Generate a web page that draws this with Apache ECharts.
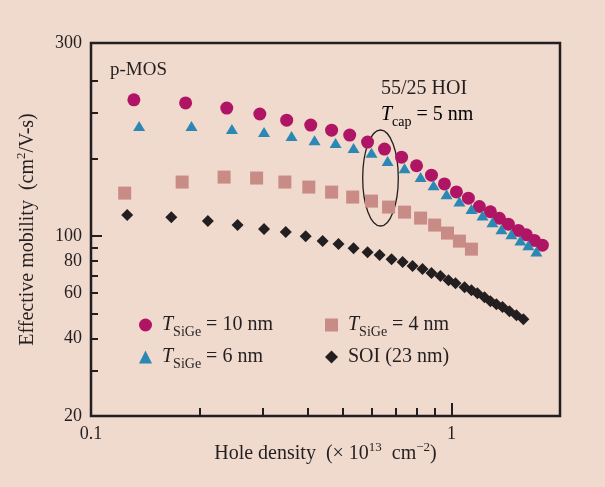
<!DOCTYPE html>
<html><head><meta charset="utf-8">
<script src="https://cdn.jsdelivr.net/npm/echarts@6/dist/echarts.min.js"></script>
<style>html,body{margin:0;padding:0;background:#f0d9cd;}#c{width:605px;height:487px;}</style>
</head><body><div id="c"></div>
<script>
// Hole density (x 10^13 cm^-2) and effective mobility (cm^2/V-s)
const t10Density = [0.1315,0.183,0.238,0.294,0.349,0.407,0.465,0.522,0.585,0.652,0.727,0.800,0.880,0.956,1.032,1.114,1.195,1.282,1.358,1.438,1.533,1.613,1.698,1.787];
const t10Mobility = [337,328,313,297,281,269,257,246,231,217,202,187,172,159,148,140,130,124,117,111,105,101,96,92];
const t6Density = [0.136,0.190,0.246,0.302,0.360,0.417,0.477,0.535,0.600,0.665,0.741,0.821,0.892,0.969,1.052,1.136,1.219,1.299,1.376,1.466,1.553,1.634,1.720];
const t6Mobility = [267,267,260,253,244,235,229,219,210,195,183,169,157,145,136,127,120,113,106,101.5,96,92,87];
const t4Density = [0.124,0.179,0.234,0.288,0.345,0.402,0.465,0.532,0.600,0.669,0.741,0.821,0.898,0.975,1.052,1.136];
const t4Mobility = [146.5,161.7,169,167.6,161.7,154.6,147.8,141.4,136.4,129.3,123.6,117.2,110.1,102.5,95.4,88.8];
const soiDensity = [0.126,0.167,0.211,0.255,0.302,0.347,0.394,0.439,0.486,0.535,0.585,0.632,0.682,0.732,0.780,0.831,0.880,0.932,0.981,1.026,1.087,1.136,1.180,1.235,1.282,1.332,1.385,1.448,1.514,1.583];
const soiMobility = [120.4,118.2,114.1,110.1,106.2,103.4,99.7,95.4,92.9,89.6,86.4,84.2,81.2,79.1,76.3,74.3,71.7,69.8,67.3,65.5,63.2,61.5,59.9,57.8,55.8,54.3,52.9,51.0,49.2,47.5];

const xTickLabels = [0.1, 1];
const xMinorTicks = [0.2,0.3,0.4,0.5,0.6,0.7,0.8,0.9];
const xMajorTicks = [1];
const yTickLabels = [20, 40, 60, 80, 100];
const yTopLabel = '300';
const yMinorTicks = [30,40,50,60,70,80,90,200,300,400];
const yMajorTicks = [100];
const xMin = 0.1, xMax = 2, yMin = 20, yMax = 560;

const legendText = {
  t10: '{i|T}{s|SiGe}{n| = 10 nm}',
  t6: '{i|T}{s|SiGe}{n| = 6 nm}',
  t4: '{i|T}{s|SiGe}{n| = 4 nm}',
  soi: '{n|SOI (23 nm)}'
};

const INK = '#231f20';
const FONT = '"Liberation Serif", "Times New Roman", serif';
const zip = (a, b) => a.map((v, i) => [v, b[i]]);

const richLegend = {
  i: {fontFamily: FONT, fontSize: 20, fontStyle: 'italic', color: INK, lineHeight: 28},
  s: {fontFamily: FONT, fontSize: 14, color: INK, lineHeight: 11, verticalAlign: 'bottom'},
  n: {fontFamily: FONT, fontSize: 20, color: INK, lineHeight: 28}
};
const richSup = {
  n: {fontFamily: FONT, fontSize: 20, color: INK, lineHeight: 26},
  sup: {fontFamily: FONT, fontSize: 13, color: INK, lineHeight: 11, verticalAlign: 'top'}
};

const chart = echarts.init(document.getElementById('c'), null, {renderer: 'canvas'});
const legendCommon = {
  orient: 'vertical', padding: 0, itemGap: 8, itemWidth: 13, itemHeight: 13,
  formatter: n => legendText[n],
  textStyle: {rich: richLegend, padding: [0, 0, 0, 5]}
};
chart.setOption({
  backgroundColor: '#f0d9cd',
  animation: false,
  grid: [
    {left: 91, right: 45, top: 43, bottom: 71, show: true, borderColor: INK, borderWidth: 2.5, backgroundColor: 'transparent'},
    {left: 91, right: 45, top: 43, bottom: 71, show: false}
  ],
  xAxis: [
    {type: 'log', gridIndex: 0, min: xMin, max: xMax,
     axisLine: {show: false}, splitLine: {show: false},
     axisTick: {show: true, inside: true, length: 8, lineStyle: {color: INK, width: 2}, customValues: xMinorTicks},
     axisLabel: {customValues: xTickLabels, color: INK, fontFamily: FONT, fontSize: 18, margin: 9},
     name: '{n|Hole density  (× 10}{sup|13}{n|  cm}{sup|−2}{n|)}', nameLocation: 'middle', nameGap: 25,
     nameMoveOverlap: false,
     nameTextStyle: {rich: richSup}},
    {type: 'log', gridIndex: 1, min: xMin, max: xMax,
     axisLine: {show: false}, splitLine: {show: false}, axisLabel: {show: false},
     axisTick: {show: true, inside: true, length: 13, lineStyle: {color: INK, width: 2}, customValues: xMajorTicks}}
  ],
  yAxis: [
    {type: 'log', gridIndex: 0, min: yMin, max: yMax,
     axisLine: {show: false}, splitLine: {show: false},
     axisTick: {show: true, inside: true, length: 7, lineStyle: {color: INK, width: 2}, customValues: yMinorTicks},
     axisLabel: {customValues: yTickLabels.concat([yMax]), color: INK, fontFamily: FONT, fontSize: 18, margin: 9,
       formatter: v => (v > 450 ? yTopLabel : String(Math.round(v)))},
     name: '{n|Effective mobility  (cm}{sup|2}{n|/V-s)}', nameLocation: 'middle', nameGap: 50,
     nameTextStyle: {rich: richSup}},
    {type: 'log', gridIndex: 1, min: yMin, max: yMax,
     axisLine: {show: false}, splitLine: {show: false}, axisLabel: {show: false},
     axisTick: {show: true, inside: true, length: 11, lineStyle: {color: INK, width: 2}, customValues: yMajorTicks}}
  ],
  legend: [
    Object.assign({data: ['t10', 't6'], left: 139, top: 315}, legendCommon),
    Object.assign({data: ['t4', 'soi'], left: 325, top: 315}, legendCommon)
  ],
  series: [
    {name: 't10', type: 'scatter', symbol: 'circle', symbolSize: 13, itemStyle: {color: '#b01565', opacity: 1}, data: zip(t10Density, t10Mobility)},
    {name: 't6', type: 'scatter', symbol: 'triangle', symbolSize: [12, 10], itemStyle: {color: '#2b88b5', opacity: 1}, data: zip(t6Density, t6Mobility)},
    {name: 't4', type: 'scatter', symbol: 'rect', symbolSize: 13, itemStyle: {color: '#c98b85', opacity: 1}, data: zip(t4Density, t4Mobility)},
    {name: 'soi', type: 'scatter', symbol: 'diamond', symbolSize: 12, itemStyle: {color: INK, opacity: 1}, data: zip(soiDensity, soiMobility)}
  ],
  graphic: [
    {type: 'text', x: 110, y: 70, style: {text: 'p-MOS', font: '19px ' + FONT, fill: INK, verticalAlign: 'middle'}},
    {type: 'text', x: 381, y: 89, style: {text: '55/25 HOI', font: '20px ' + FONT, fill: INK, verticalAlign: 'middle'}},
    {type: 'text', x: 381, y: 115, style: {text: '{i|T}{s|cap}{n| = 5 nm}', rich: richLegend, verticalAlign: 'middle'}},
    {type: 'ellipse', shape: {cx: 380.5, cy: 178, rx: 17.8, ry: 48}, style: {fill: 'none', stroke: INK, lineWidth: 1.3}}
  ]
});
</script></body></html>
